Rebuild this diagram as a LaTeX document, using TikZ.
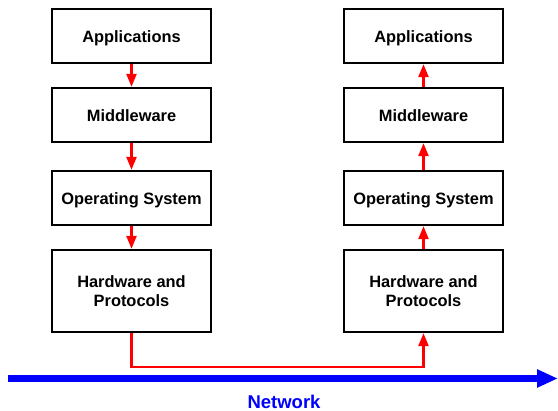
\documentclass[tikz,border=0pt]{standalone}
\usepackage{fontspec}
\setmainfont{Liberation Sans}
\usetikzlibrary{arrows.meta}
\definecolor{netblue}{RGB}{0,0,255}
\definecolor{flowred}{RGB}{255,0,0}
\begin{document}
\begin{tikzpicture}[x=1pt,y=-1pt,
  layer/.style={draw=black, line width=2.4pt, minimum width=159pt, inner sep=0pt,
    align=center, font=\fontsize{16.4}{18.5}\selectfont\bfseries},
  single/.style={layer, minimum height=54pt, text height=16pt, text depth=2pt},
  double/.style={layer, minimum height=82pt},
  flow/.style={draw=flowred, line width=2.4pt, -{Triangle[length=13pt,width=10pt]}},
  net/.style={draw=netblue, line width=7pt, -{Triangle[length=21pt,width=17pt]}}]
\useasboundingbox (0,0) rectangle (558,411);
% left stack
\node[single] (la) at (131.5,36) {Applications};
\node[single] (lm) at (131.5,115) {Middleware};
\node[single] (lo) at (131.5,198) {Operating System};
\node[double] (lh) at (131.5,291) {Hardware and\\Protocols};
% right stack
\node[single] (ra) at (423.5,36) {Applications};
\node[single] (rm) at (423.5,115) {Middleware};
\node[single] (ro) at (423.5,198) {Operating System};
\node[double] (rh) at (423.5,291) {Hardware and\\Protocols};
% flows
\draw[flow] (la) -- (lm);
\draw[flow] (lm) -- (lo);
\draw[flow] (lo) -- (lh);
\draw[flow] (rh) -- (ro);
\draw[flow] (ro) -- (rm);
\draw[flow] (rm) -- (ra);
\coordinate (bl) at (131.5,367);
\coordinate (br) at (423.5,367);
\draw[flow, line join=miter] (lh.south) -- (bl) -- (br) -- (rh.south);
% network
\coordinate (n0) at (8,378.5);
\coordinate (n1) at (558,378.5);
\draw[net] (n0) -- (n1);
\node[text=netblue, font=\fontsize{18.5}{20}\selectfont\bfseries] (nl) at (284,401.5) {Network};
\end{tikzpicture}
\end{document}
